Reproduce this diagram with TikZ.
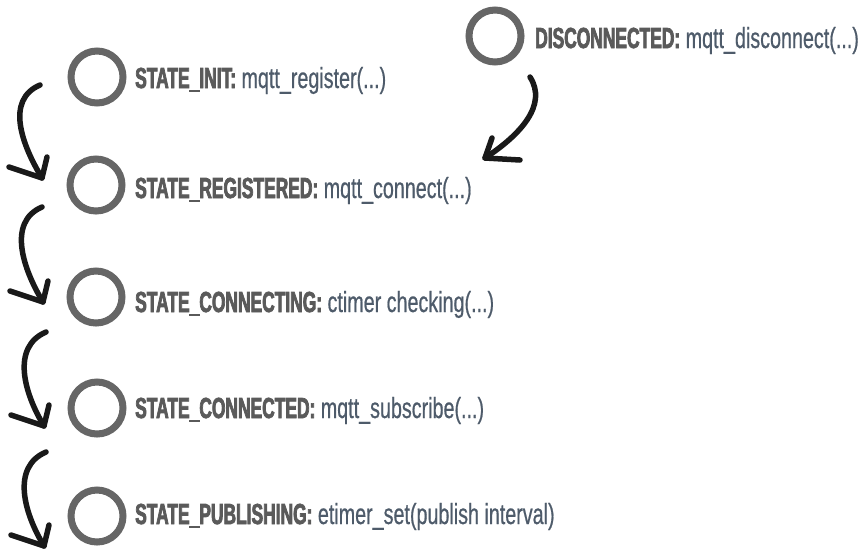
\documentclass[tikz,border=0pt]{standalone}
\usepackage{fontspec}
\setmainfont{Liberation Sans}
\newfontfamily\condb{Liberation Sans}[FakeStretch=0.6, BoldFeatures={FakeBold=2.5}]
\newfontfamily\condr{Liberation Sans}[FakeStretch=0.68, FakeBold=0.6]
\definecolor{ringgray}{HTML}{666666}
\definecolor{boldgray}{HTML}{5A5A5A}
\definecolor{codegray}{HTML}{4E5B6A}
\newcommand{\stlabel}[2]{{\condb\bfseries\color{boldgray}#1}{\condr\color{codegray}\ #2}}
\begin{document}
\begin{tikzpicture}[x=1pt,y=-1pt,
  ring/.style={circle,draw=ringgray,line width=7pt,minimum size=52pt,inner sep=0pt},
  lbl/.style={anchor=base west,inner sep=0pt,font=\fontsize{29}{31}\selectfont},
  brush/.style={draw=black!90,line width=5.5pt,line cap=round,line join=round}]
\useasboundingbox (0,0) rectangle (866,550);

% states
\node[ring] (c0) at (495,36) {};
\node[ring] (c1) at (97,77) {};
\node[ring] (c2) at (96,185) {};
\node[ring] (c3) at (96,297) {};
\node[ring] (c4) at (97,408) {};
\node[ring] (c5) at (97,516) {};

\node[lbl] (t0) at (535,48) {\stlabel{DISCONNECTED:}{mqtt\_disconnect(...)}};
\node[lbl] (t1) at (135,88) {\stlabel{STATE\_INIT:}{mqtt\_register(...)}};
\node[lbl] (t2) at (135,198) {\stlabel{STATE\_REGISTERED:}{mqtt\_connect(...)}};
\node[lbl] (t3) at (135,312) {\stlabel{STATE\_CONNECTING:}{ctimer checking(...)}};
\node[lbl] (t4) at (135,418) {\stlabel{STATE\_CONNECTED:}{mqtt\_subscribe(...)}};
\node[lbl] (t5) at (135,524) {\stlabel{STATE\_PUBLISHING:}{etimer\_set(publish interval)}};

% arrow end points
\coordinate (s1) at (40,85);  \coordinate (e1) at (42,178);
\coordinate (s2) at (42,207); \coordinate (e2) at (43,302);
\coordinate (s3) at (46,332); \coordinate (e3) at (44,426);
\coordinate (s4) at (46,452); \coordinate (e4) at (44,546);
\coordinate (s0) at (530,77); \coordinate (e0) at (485,158);

% left-column arrows
\foreach \i in {1,2,3,4}{
  \draw[brush] (s\i) .. controls ([shift={(-35,15)}]s\i) and ([shift={(-20,-33)}]e\i) .. (e\i);
  \draw[brush] ([shift={(5,-21)}]e\i) -- (e\i) -- ([shift={(-33,-11)}]e\i);
}
% disconnected arrow
\draw[brush] (s0) .. controls (548,105) and (520,135) .. (e0);
\draw[brush] ([shift={(7,-20)}]e0) -- (e0) -- ([shift={(35,2)}]e0);
\end{tikzpicture}
\end{document}
